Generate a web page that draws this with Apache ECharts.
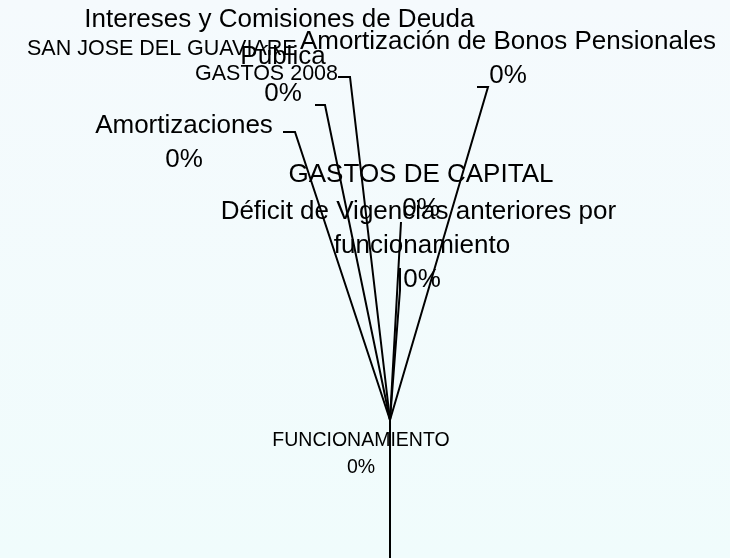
<!DOCTYPE html>
<html>
<head>
<meta charset="utf-8">
<script src="https://cdn.jsdelivr.net/npm/echarts@6/dist/echarts.min.js"></script>
<style>
  html, body { margin: 0; padding: 0; }
  #main { width: 730px; height: 558px; }
</style>
</head>
<body>
<div id="main"></div>
<script>
  // datos
  var titleText = 'SAN JOSE DEL GUAVIARE';
  var subText = 'GASTOS 2008';
  var categories = [
    'GASTOS DE CAPITAL',
    'Déficit de Vigencias anteriores por funcionamiento',
    'Amortización de Bonos Pensionales',
    'FUNCIONAMIENTO',
    'Amortizaciones',
    '',
    'Intereses y Comisiones de Deuda Pública'
  ];
  var values = [0, 0, 0, 0, 0, 0, 0];

  // posicion de las etiquetas (centro x, top y) y sus lineas guia
  var center = [390, 420];
  var spots = [
    { x: 421, y: 158, line: [[400, 240], [401, 222]] },
    { x: 422, y: 195, line: [[400, 290], [400, 268]] },
    { x: 508, y: 25,  line: [[488, 87], [477, 87]] },
    { x: 361, y: 427, line: [[390, 600]] },
    { x: 184, y: 109, line: [[295, 132], [283, 132]] },
    { x: 300, y: 80,  line: [[325, 105], [315, 105]] },
    { x: 283, y: 1,   line: [[350, 77], [338, 77]] }
  ];

  var FONT = 'Liberation Sans';

  var pieData = categories.map(function (name, i) {
    var item = { name: name, value: values[i] };
    if (name === 'FUNCIONAMIENTO') {
      item.label = { fontSize: 19.5, lineHeight: 27 };
    }
    if (i === 6) {
      item.label = { lineHeight: 37 };
    }
    return item;
  });

  var myChart = echarts.init(document.getElementById('main'));
  var option = {
    animation: false,
    backgroundColor: new echarts.graphic.LinearGradient(0, 0, 0, 1, [
      { offset: 0, color: '#F5FAFD' },
      { offset: 1, color: '#F0FCFC' }
    ]),
    title: [
      {
        text: titleText, left: 22, top: 33,
        textStyle: { color: '#000', fontSize: 21.5, fontWeight: 'normal', fontFamily: FONT }
      },
      {
        text: subText, left: 190, top: 58,
        textStyle: { color: '#000', fontSize: 21.5, fontWeight: 'normal', fontFamily: FONT }
      }
    ],
    series: [
      {
        type: 'pie',
        center: center,
        radius: [0, 1],
        stillShowZeroSum: true,
        avoidLabelOverlap: false,
        itemStyle: { color: 'rgba(0,0,0,0)' },
        label: {
          show: true,
          position: 'outside',
          color: '#000',
          fontSize: 26,
          lineHeight: 34,
          fontFamily: FONT,
          width: 440,
          overflow: 'break',
          formatter: function (p) {
            if (!p.name) return ' ';
            return p.name + '\n' + Math.round(p.percent || 0) + '%';
          }
        },
        labelLine: {
          show: true,
          length: 20,
          length2: 10,
          lineStyle: { color: '#000', width: 2 }
        },
        labelLayout: function (params) {
          var s = spots[params.dataIndex];
          return {
            x: s.x,
            y: s.y,
            align: 'center',
            verticalAlign: 'top',
            labelLinePoints: [center].concat(s.line)
          };
        },
        data: pieData
      }
    ]
  };
  myChart.setOption(option);
</script>
</body>
</html>
